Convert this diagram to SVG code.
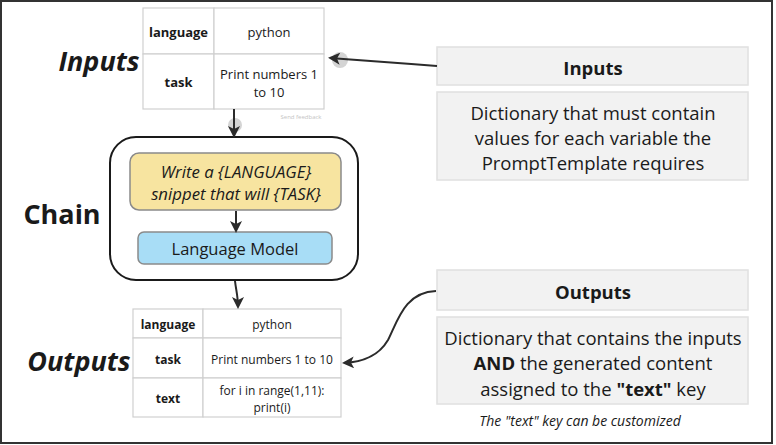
<svg xmlns="http://www.w3.org/2000/svg" width="776" height="445" viewBox="0 0 776 445">
<style>
text{font-family:"Open Sans","Noto Sans","Liberation Sans",sans-serif;fill:#1a1a1a;text-anchor:middle;dominant-baseline:central}
.big{font-size:27px;font-weight:700;font-style:italic}
.chain{font-size:27px;font-weight:700;font-style:normal}
.cell{fill:#fff;stroke:#d0d0d0;stroke-width:1.2}
.key{font-size:13px;font-weight:700}
.val{font-size:13px}
.okey{font-size:12px;font-weight:700}
.oval{font-size:12px}
.panel{fill:#f2f2f2;stroke:#e0e0e0;stroke-width:1.5}
.ph{font-size:18.5px;font-weight:700}
.pd{font-size:18.5px}
.conn{fill:none;stroke:#2b2b2b;stroke-width:2}
.dot{fill:#d4d4d4}
</style>
<defs>
<marker id="ah" viewBox="0 0 12 12" refX="10" refY="6" markerWidth="12" markerHeight="12" markerUnits="userSpaceOnUse" orient="auto">
<path d="M0,0 L12,6 L0,12 L3,6 Z" fill="#2b2b2b"/>
</marker>
</defs>
<rect x="1" y="1" width="771" height="442" fill="#fff" stroke="#333" stroke-width="2"/>

<g id="inputs-label"><text class="big" x="99" y="60">Inputs</text></g>
<g id="chain-label"><text class="chain" x="62" y="213">Chain</text></g>
<g id="outputs-label"><text class="big" x="79" y="360">Outputs</text></g>

<g id="inputs-table">
<rect class="cell" x="143" y="8" width="71" height="46"/>
<rect class="cell" x="214" y="8" width="110" height="46"/>
<rect class="cell" x="143" y="54" width="71" height="55"/>
<rect class="cell" x="214" y="54" width="110" height="55"/>
<text class="key" x="178.5" y="32">language</text>
<text class="val" x="269" y="32">python</text>
<text class="key" x="178.5" y="82">task</text>
<text class="val" x="269" y="74">Print numbers 1</text>
<text class="val" x="269" y="92">to 10</text>
<text x="301" y="117" style="font-size:6px;fill:#c4c4c4">Send feedback</text>
</g>

<g id="chain">
<rect x="110" y="137" width="248" height="143" rx="26" fill="#fff" stroke="#1a1a1a" stroke-width="2"/>
<g id="prompt">
<rect x="130" y="153" width="211" height="57" rx="9" fill="#f7e4a0" stroke="#8a8a8a" stroke-width="1.5"/>
<text x="236" y="171" style="font-size:16.8px;font-style:italic">Write a {LANGUAGE}</text>
<text x="236" y="193" style="font-size:16.8px;font-style:italic">snippet that will {TASK}</text>
</g>
<g id="llm">
<rect x="138" y="232" width="194" height="32" rx="6" fill="#a8ddf6" stroke="#8a8a8a" stroke-width="1.5"/>
<text x="235" y="248" style="font-size:16.5px">Language Model</text>
</g>
</g>

<g id="outputs-table">
<rect class="cell" x="133" y="309" width="70" height="29"/>
<rect class="cell" x="203" y="309" width="138" height="29"/>
<rect class="cell" x="133" y="338" width="70" height="40"/>
<rect class="cell" x="203" y="338" width="138" height="40"/>
<rect class="cell" x="133" y="378" width="70" height="39"/>
<rect class="cell" x="203" y="378" width="138" height="39"/>
<text class="okey" x="168" y="324">language</text>
<text class="oval" x="272" y="324">python</text>
<text class="okey" x="168" y="359">task</text>
<text class="oval" x="272" y="359">Print numbers 1 to 10</text>
<text class="okey" x="168" y="398">text</text>
<text class="oval" x="272" y="390">for i in range(1,11):</text>
<text class="oval" x="272" y="407">print(i)</text>
</g>

<g id="inputs-panel">
<rect class="panel" x="437" y="47" width="311" height="38"/>
<text class="ph" x="593" y="67">Inputs</text>
<rect class="panel" x="437" y="92" width="311" height="88"/>
<text class="pd" x="593" y="112">Dictionary that must contain</text>
<text class="pd" x="593" y="137">values for each variable the</text>
<text class="pd" x="593" y="162">PromptTemplate requires</text>
</g>

<g id="outputs-panel">
<rect class="panel" x="437" y="270" width="311" height="40"/>
<text class="ph" x="593" y="291">Outputs</text>
<rect class="panel" x="437" y="317" width="311" height="87"/>
<text class="pd" x="593" y="337">Dictionary that contains the inputs</text>
<text class="pd" x="593" y="362"><tspan font-weight="700">AND</tspan> the generated content</text>
<text class="pd" x="593" y="388">assigned to the <tspan font-weight="700">"text"</tspan> key</text>
<text x="580" y="420" style="font-size:14px;font-style:italic">The "text" key can be customized</text>
</g>

<g id="connectors">
<circle class="dot" cx="340" cy="60" r="8"/>
<circle class="dot" cx="235" cy="125" r="7"/>
<path class="conn" d="M437,66 C400,63 360,60 330,58" marker-end="url(#ah)"/>
<path class="conn" d="M234,109 L234,136" marker-end="url(#ah)"/>
<path class="conn" d="M236,211 L236,231" marker-end="url(#ah)"/>
<path class="conn" d="M235,281 C236,290 238,296 238,307" marker-end="url(#ah)"/>
<path class="conn" d="M436,291 C405,292 398,320 388,340 C378,357 362,362 344,363" marker-end="url(#ah)"/>
</g>
</svg>
